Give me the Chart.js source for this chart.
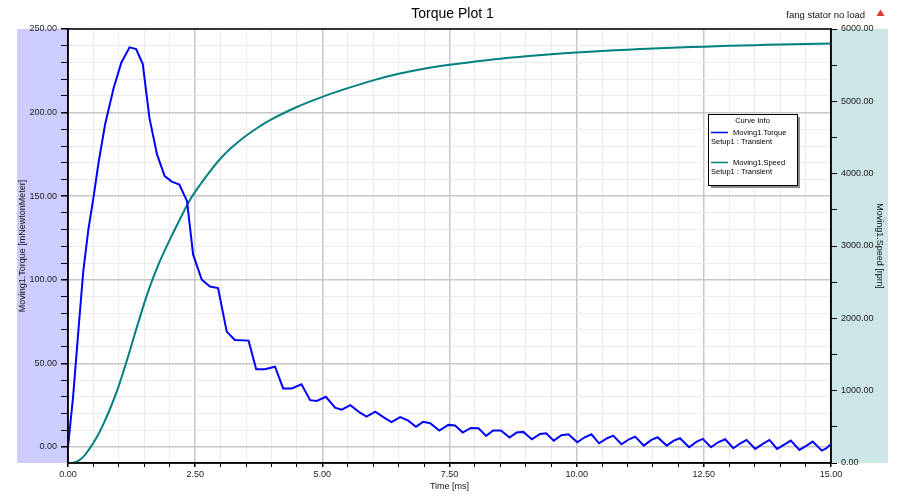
<!DOCTYPE html>
<html>
<head>
<meta charset="utf-8">
<title>Torque Plot 1</title>
<script src="https://cdn.jsdelivr.net/npm/chart.js@4.4.1/dist/chart.umd.min.js"></script>
<style>
  html, body { margin: 0; padding: 0; background: #fff; }
  #wrap { width: 899px; height: 499px; position: relative; }
</style>
</head>
<body>
<div id="wrap"><canvas id="torqueChart"></canvas></div>
<script>
// Moving1.Torque [mNewtonMeter] vs time [ms]
const torqueTime = [0, 0.1, 0.2, 0.3, 0.4, 0.5, 0.6, 0.73, 0.9, 1.05, 1.21, 1.34, 1.47, 1.6, 1.75, 1.9,
    2.04, 2.19, 2.34, 2.46, 2.63, 2.79, 2.95, 3.12, 3.28, 3.55, 3.7, 3.87, 4.07, 4.23, 4.4, 4.59, 4.76,
    4.89, 5.07, 5.25, 5.38, 5.55, 5.74, 5.87, 6.04, 6.2, 6.36, 6.53, 6.69, 6.84, 6.98, 7.12, 7.3, 7.48,
    7.61, 7.76, 7.92, 8.07, 8.22, 8.36, 8.51, 8.68, 8.82, 8.95, 9.12, 9.28, 9.4, 9.55, 9.7, 9.84, 10.01,
    10.16, 10.29, 10.44, 10.6, 10.72, 10.88, 11.03, 11.15, 11.32, 11.47, 11.59, 11.77, 11.91, 12.03,
    12.21, 12.36, 12.48, 12.64, 12.78, 12.92, 13.08, 13.22, 13.34, 13.51, 13.66, 13.79, 13.94, 14.09,
    14.21, 14.38, 14.52, 14.64, 14.82, 14.91, 15];
const torqueValues = [0, 30, 68, 105, 130, 149, 170, 193, 215, 230, 239, 238, 229, 197, 175, 162,
    158.7, 157, 147, 115, 100, 96, 95, 69, 64, 63.6, 46.5, 46.5, 48, 35, 35, 37.5, 28,
    27.5, 30, 23.5, 22.3, 25, 20.5, 18.1, 21.1, 17.8, 14.8, 17.8, 15.7, 12.1, 15, 14.2, 9.8, 13.2,
    12.8, 8.6, 11.4, 11.2, 6.6, 9.8, 9.8, 5.6, 8.6, 9, 4.6, 7.8, 8.2, 3.8, 7, 7.6, 2.8,
    5.8, 7.6, 2.2, 5.2, 6.8, 1.6, 4.6, 6.2, 0.8, 4.2, 5.8, 0.8, 3.8, 5.2,
    -0.2, 3.2, 4.8, -0.2, 2.8, 4.6, -0.8, 2.2, 4.2, -1.2, 1.8, 4.2, -1.2, 1.6,
    3.8, -1.8, 0.8, 3.2, -2.2, -0.8, 1.8];

// Moving1.Speed [rpm] vs time [ms]
const speedTime = [0, 0.1, 0.2, 0.3, 0.4, 0.5, 0.6, 0.7, 0.8, 0.9, 1.0, 1.2, 1.4, 1.6, 1.8, 2.0, 2.2,
    2.4, 2.6, 2.8, 3.0, 3.2, 3.5, 3.8, 4.0, 4.5, 5.0, 5.5, 6.0, 6.5, 7.0, 7.5, 8.0, 8.5, 9.0, 9.5, 10,
    10.5, 11, 11.5, 12, 12.5, 13, 13.5, 14, 14.5, 15];
const speedValues = [0, 5, 30, 85, 175, 280, 400, 545, 705, 880, 1070, 1515, 1985, 2420, 2780, 3085, 3370,
    3640, 3850, 4040, 4210, 4350, 4524, 4668, 4752, 4922, 5062, 5182, 5290, 5380, 5450, 5505, 5550, 5590,
    5623, 5651, 5675, 5696, 5714, 5730, 5744, 5756, 5767, 5777, 5786, 5794, 5801];

// axis ticks (labelled ones) and minor steps
const timeTicks = [0, 2.5, 5, 7.5, 10, 12.5, 15];
const torqueTicks = [0, 50, 100, 150, 200, 250];
const speedTicks = [0, 1000, 2000, 3000, 4000, 5000, 6000];
const timeMinor = 0.5;
const torqueMinor = 10;
const speedMinor = 500;

const FONT = 'Liberation Sans, Arial, sans-serif';

function isOn(v, list) {
    return list.some(t => Math.abs(t - v) < 1e-6);
}

function minorTicks(min, max, step) {
    const out = [];
    const n = Math.round((max - min) / step);
    for (let i = 0; i <= n; i++) out.push({ value: +(min + i * step).toFixed(6) });
    return out;
}

// bands behind the axes, frame, header text and the curve info box
const plotDecor = {
    id: 'plotDecor',
    beforeDraw(chart) {
        const { ctx, chartArea, scales } = chart;
        ctx.save();
        ctx.fillStyle = '#ffffff';
        ctx.fillRect(0, 0, chart.width, chart.height);
        ctx.fillStyle = '#ccccff';
        ctx.fillRect(scales.y.left, chartArea.top, chartArea.left - scales.y.left, chartArea.bottom - chartArea.top);
        ctx.fillStyle = '#cce6e6';
        ctx.fillRect(chartArea.right, chartArea.top, scales.y2.right - chartArea.right, chartArea.bottom - chartArea.top);
        ctx.restore();
    },
    afterDraw(chart) {
        const { ctx, chartArea } = chart;
        ctx.save();

        // plot frame
        ctx.strokeStyle = '#000';
        ctx.lineWidth = 1.5;
        ctx.strokeRect(chartArea.left, chartArea.top, chartArea.right - chartArea.left, chartArea.bottom - chartArea.top);

        // top right note + warning mark
        ctx.fillStyle = '#111';
        ctx.font = '9.5px ' + FONT;
        ctx.textAlign = 'right';
        ctx.textBaseline = 'middle';
        ctx.fillText('fang stator no load', 865, 15);
        ctx.fillStyle = '#e03a3a';
        ctx.beginPath();
        ctx.moveTo(880.5, 9.5);
        ctx.lineTo(884.5, 16);
        ctx.lineTo(876.5, 16);
        ctx.closePath();
        ctx.fill();

        // curve info box
        const bx = 708, by = 114, bw = 89, bh = 71;
        ctx.fillStyle = '#8c8c8c';
        ctx.fillRect(bx + 3, by + 3, bw, bh);
        ctx.fillStyle = '#fff';
        ctx.fillRect(bx, by, bw, bh);
        ctx.strokeStyle = '#000';
        ctx.lineWidth = 1;
        ctx.strokeRect(bx + 0.5, by + 0.5, bw, bh);

        ctx.fillStyle = '#000';
        ctx.font = '7.5px ' + FONT;
        ctx.textAlign = 'center';
        ctx.fillText('Curve Info', bx + bw / 2, by + 6.5);

        const entries = [
            { name: chart.data.datasets[0].label, color: chart.data.datasets[0].borderColor, y: by + 18.5 },
            { name: chart.data.datasets[1].label, color: chart.data.datasets[1].borderColor, y: by + 48.5 }
        ];
        entries.forEach(e => {
            ctx.strokeStyle = e.color;
            ctx.lineWidth = 1.5;
            ctx.beginPath();
            ctx.moveTo(bx + 3, e.y);
            ctx.lineTo(bx + 20, e.y);
            ctx.stroke();
            ctx.fillStyle = '#000';
            ctx.textAlign = 'left';
            ctx.fillText(e.name, bx + 25, e.y);
            ctx.fillText('Setup1 : Transient', bx + 3, e.y + 9);
        });
        ctx.restore();
    }
};

new Chart(document.getElementById('torqueChart'), {
    type: 'line',
    data: {
        datasets: [{
            label: 'Moving1.Torque',
            data: torqueTime.map((t, i) => ({ x: t, y: torqueValues[i] })),
            borderColor: '#0000ff',
            borderWidth: 2,
            pointRadius: 0,
            tension: 0,
            yAxisID: 'y'
        }, {
            label: 'Moving1.Speed',
            data: speedTime.map((t, i) => ({ x: t, y: speedValues[i] })),
            borderColor: '#008080',
            borderWidth: 2,
            pointRadius: 0,
            tension: 0.35,
            yAxisID: 'y2'
        }]
    },
    options: {
        responsive: true,
        maintainAspectRatio: false,
        animation: false,
        devicePixelRatio: 1,
        layout: { padding: { left: 17, right: 11, top: 0, bottom: 0 } },
        plugins: {
            legend: { display: false },
            tooltip: { enabled: false },
            title: {
                display: true,
                text: 'Torque Plot 1',
                color: '#000',
                font: { family: FONT, size: 14, weight: 'normal' },
                padding: { top: 6, bottom: 6.2 }
            }
        },
        scales: {
            x: {
                type: 'linear',
                position: 'bottom',
                min: 0,
                max: 15,
                afterBuildTicks: s => { s.ticks = minorTicks(0, 15, timeMinor); },
                afterFit: s => { s.height = 36; },
                border: { color: '#000', width: 1.5 },
                grid: {
                    color: c => isOn(c.tick.value, timeTicks) ? '#c8c8c8' : '#ebebeb',
                    lineWidth: c => isOn(c.tick.value, timeTicks) ? 1.5 : 1,
                    tickColor: '#000',
                    tickLength: 4
                },
                ticks: {
                    autoSkip: false,
                    maxRotation: 0,
                    padding: 2,
                    color: '#222',
                    font: { family: FONT, size: 9 },
                    callback: v => isOn(v, timeTicks) ? v.toFixed(2) : ''
                },
                title: {
                    display: true,
                    text: 'Time [ms]',
                    color: '#111',
                    font: { family: FONT, size: 9 },
                    padding: { top: 0, bottom: 7 }
                }
            },
            y: {
                type: 'linear',
                position: 'left',
                min: -9.6,
                max: 250,
                afterBuildTicks: s => { s.ticks = minorTicks(0, 250, torqueMinor); },
                afterFit: s => { s.width = 51; },
                border: { color: '#000', width: 1.5 },
                grid: {
                    color: c => isOn(c.tick.value, torqueTicks) ? '#c8c8c8' : '#ebebeb',
                    lineWidth: c => isOn(c.tick.value, torqueTicks) ? 1.5 : 1,
                    tickColor: '#000',
                    tickLength: 7
                },
                ticks: {
                    autoSkip: false,
                    padding: 4,
                    color: '#222',
                    font: { family: FONT, size: 9 },
                    callback: v => isOn(v, torqueTicks) ? v.toFixed(2) : ''
                },
                title: {
                    display: true,
                    text: 'Moving1.Torque [mNewtonMeter]',
                    color: '#111',
                    font: { family: FONT, size: 9 },
                    padding: { top: 0, bottom: 0 }
                }
            },
            y2: {
                type: 'linear',
                position: 'right',
                min: 0,
                max: 6000,
                afterBuildTicks: s => { s.ticks = minorTicks(0, 6000, speedMinor); },
                afterFit: s => { s.width = 57; },
                border: { color: '#000', width: 1.5 },
                grid: {
                    drawOnChartArea: false,
                    tickColor: '#000',
                    tickLength: 6
                },
                ticks: {
                    autoSkip: false,
                    padding: 4,
                    color: '#222',
                    font: { family: FONT, size: 9 },
                    callback: v => isOn(v, speedTicks) ? v.toFixed(2) : ''
                },
                title: {
                    display: true,
                    text: 'Moving1.Speed [rpm]',
                    color: '#111',
                    font: { family: FONT, size: 9 },
                    padding: { top: 3, bottom: 0 }
                }
            }
        }
    },
    plugins: [plotDecor]
});
</script>
</body>
</html>
